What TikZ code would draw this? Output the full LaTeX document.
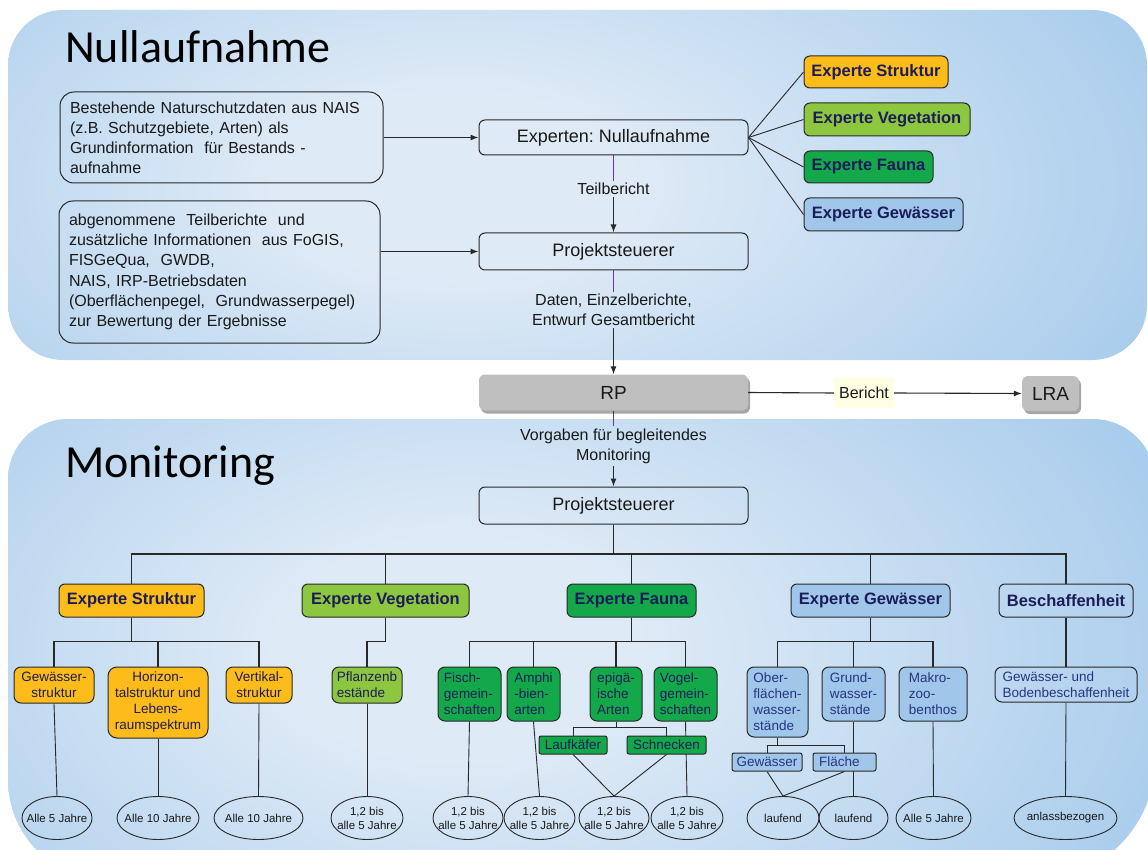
\documentclass[tikz,border=0pt]{standalone}
\usepackage{fontspec}
\setmainfont{Liberation Sans}
\newfontfamily\titlefont{Carlito}
\usetikzlibrary{shapes.geometric,arrows.meta,shadows}
\definecolor{pinner}{RGB}{222,234,246}
\definecolor{pouter}{RGB}{150,194,233}
\pgfdeclareradialshading{panelshade}{\pgfpoint{-6bp}{0bp}}{color(0bp)=(pinner); color(8bp)=(pinner); color(40bp)=(pouter); color(80bp)=(pouter)}
\definecolor{cOrange}{RGB}{253,188,26}
\definecolor{cLgreen}{RGB}{141,198,63}
\definecolor{cGreen}{RGB}{19,169,75}
\definecolor{cLblue}{RGB}{160,198,234}
\definecolor{cNavy}{RGB}{28,28,90}
\definecolor{cNavyB}{RGB}{40,52,130}
\definecolor{cLine}{RGB}{40,40,40}
\definecolor{cPurple}{RGB}{112,48,160}
\definecolor{cGray}{RGB}{191,191,191}
\definecolor{cYellow}{RGB}{255,255,228}
\definecolor{cText}{RGB}{25,25,25}
\pgfdeclarelayer{panel}
\pgfdeclarelayer{lines}
\pgfsetlayers{panel,lines,main}
\tikzset{
  panelfill/.style={path picture={\path[shading=panelshade]
     ([yshift=-120pt]path picture bounding box.south west) rectangle ([yshift=120pt]path picture bounding box.north east);}},
  box/.style={draw=cLine, line width=1pt, rounded corners=6pt, inner sep=2pt, text=cText},
  bigbox/.style={box, rounded corners=14pt, font=\fontsize{16}{20}\selectfont, align=left, inner xsep=10pt},
  mainbox/.style={box, minimum width=269pt, font=\fontsize{18}{22}\selectfont},
  graybox/.style={fill=cGray, rounded corners=6pt, text=cText, font=\fontsize{19}{22}\selectfont,
     drop shadow={shadow xshift=2pt, shadow yshift=-3pt, opacity=0.35, fill=black}},
  lbl/.style={font=\fontsize{16}{20}\selectfont, align=center, inner sep=2pt, text=cText},
  expert/.style={box, font=\bfseries\fontsize{16.5}{20}\selectfont, text=cNavy, minimum height=33pt},
  sub/.style={box, font=\fontsize{13.5}{16}\selectfont, text=cNavy, align=left, rounded corners=7pt},
  subB/.style={sub, fill=cLblue, text=cNavyB},
  tiny/.style={rounded corners=2pt, minimum height=18pt, inner ysep=0.5pt},
  ell/.style={draw=cLine, line width=0.9pt, ellipse, minimum height=43pt, inner xsep=-12pt, inner ysep=-8pt,
     font=\fontsize{11.5}{14}\selectfont, align=center, text=cText},
  tree/.style={draw=cLine, line width=1.1pt},
  thinline/.style={draw=cLine, line width=0.9pt},
  arr/.style={tree, -{Latex[length=8pt,width=6pt]}},
  purp/.style={draw=cPurple, line width=0.8pt}
}
\begin{document}
\begin{tikzpicture}[x=1pt,y=-1pt]
\useasboundingbox (0,0) rectangle (1148,850);
\begin{pgfonlayer}{panel}
\begin{scope}
\clip (0,0) rectangle (1148,850);
\path[panelfill, rounded corners=55pt] (8,10) rectangle (1147,360);
\path[panelfill] (8,479) .. controls (8,445.9) and (34.9,419) .. (68,419) -- (1093,419)
   .. controls (1127.2,419) and (1155,446.8) .. (1155,481) -- (1155,760)
   .. controls (1155,826.3) and (1101.3,880) .. (1035,880) -- (108,880)
   .. controls (52.8,880) and (8,835.2) .. (8,780) -- cycle;
\end{scope}
\end{pgfonlayer}

% titles
\node[anchor=base west, inner sep=0, font=\titlefont\fontsize{46}{50}\selectfont] (t1) at (65,63) {Nullaufnahme};
\node[anchor=base west, inner sep=0, font=\titlefont\fontsize{46}{50}\selectfont] (t2) at (65,477) {Monitoring};

% top part
\node[bigbox, minimum width=323pt, minimum height=91pt, text width=303pt] (boxA) at (221.5,137.5)
  {Bestehende Naturschutzdaten aus NAIS\\(z.B. Schutzgebiete, Arten) als\\Grundinformation\ \ für Bestands -\\aufnahme};
\node[bigbox, minimum width=321pt, minimum height=142pt, text width=301pt, font=\fontsize{16}{20.3}\selectfont] (boxB) at (219.5,272)
  {abgenommene\ \ Teilberichte\ \ und\\zusätzliche Informationen\ \ aus FoGIS,\\FISGeQua,\ \ GWDB,\\NAIS, IRP-Betriebsdaten\\(Oberflächenpegel,\ \ Grundwasserpegel)\\zur Bewertung der Ergebnisse};

\node[mainbox, minimum height=35pt] (exp0) at (613.5,137.5) {Experten:\ Nullaufnahme};
\node[mainbox, minimum height=37pt] (ps1) at (613.5,251.5) {Projektsteuerer};
\node[lbl] (teil) at (613.5,189) {Teilbericht};
\node[lbl] (daten) at (613.5,310) {Daten, Einzelberichte,\\Entwurf Gesamtbericht};

\node[expert, fill=cOrange, minimum width=144pt, minimum height=32pt] (es1) at (876,72) {Experte Struktur};
\node[expert, fill=cLgreen, minimum width=166pt] (ev1) at (887,119.5) {Experte Vegetation};
\node[expert, fill=cGreen, minimum width=129pt, minimum height=32pt] (ef1) at (868.5,167) {Experte Fauna};
\node[expert, fill=cLblue, minimum width=159pt] (eg1) at (883.5,214.5) {Experte Gewässer};

% middle
\node[graybox, minimum width=269pt, minimum height=36pt] (rp) at (613.5,392.5) {RP};
\node[graybox, minimum width=57pt, minimum height=35pt] (lra) at (1050.5,393.5) {LRA};
\node[lbl, fill=cYellow, minimum height=30pt, inner xsep=5pt] (ber) at (864,393) {Bericht};
\node[lbl] (vorg) at (613.5,446) {Vorgaben für begleitendes\\Monitoring};

% monitoring
\node[mainbox, minimum height=37pt] (ps2) at (613.5,505.5) {Projektsteuerer};

\node[expert, fill=cOrange, minimum width=145pt] (es2) at (131.5,600.5) {Experte Struktur};
\node[expert, fill=cLgreen, minimum width=167pt] (ev2) at (385.5,600.5) {Experte Vegetation};
\node[expert, fill=cGreen, minimum width=129pt] (ef2) at (631.5,600.5) {Experte Fauna};
\node[expert, fill=cLblue, minimum width=159pt] (eg2) at (870.5,600.5) {Experte Gewässer};
\node[expert, minimum width=134pt] (bs2) at (1066,600.5) {Beschaffenheit};

\node[sub, fill=cOrange, align=center, minimum width=80pt, minimum height=36pt] (gws) at (54,685) {Gewässer-\\struktur};
\node[sub, fill=cOrange, align=center, minimum width=100pt, minimum height=71pt, rounded corners=9pt] (hor) at (158,702.5) {Horizon-\\talstruktur und\\Lebens-\\raumspektrum};
\node[sub, fill=cOrange, align=center, minimum width=66pt, minimum height=36pt] (ver) at (259,685) {Vertikal-\\struktur};
\node[sub, fill=cLgreen, minimum width=70pt, minimum height=36pt] (pfl) at (367,685) {Pflanzenb\\estände};
\node[sub, fill=cGreen, minimum width=63pt, minimum height=54pt] (fis) at (469.5,694) {Fisch-\\gemein-\\schaften};
\node[sub, fill=cGreen, minimum width=53pt, minimum height=54pt] (amp) at (533.5,694) {Amphi\\-bien-\\arten};
\node[sub, fill=cGreen, minimum width=52pt, minimum height=54pt] (epi) at (616,694) {epigä-\\ische\\Arten};
\node[sub, fill=cGreen, minimum width=63pt, minimum height=54pt] (vog) at (685.5,694) {Vogel-\\gemein-\\schaften};
\node[sub, tiny, fill=cGreen, minimum width=68pt] (lauf) at (573,745) {Laufkäfer};
\node[sub, tiny, fill=cGreen, minimum width=79pt] (schn) at (666.5,745) {Schnecken};
\node[subB, minimum width=61pt, minimum height=70pt] (obf) at (777.5,702) {Ober-\\flächen-\\wasser-\\stände};
\node[subB, minimum width=63pt, minimum height=54pt] (grw) at (853.5,694) {Grund-\\wasser-\\stände};
\node[subB, minimum width=68pt, minimum height=54pt] (mak) at (933,694) {Makro-\\zoo-\\benthos};
\node[subB, tiny, minimum width=70pt] (gew) at (767,762) {Gewässer};
\node[subB, tiny, text width=51pt, inner xsep=6pt] (fla) at (844.5,762) {Fläche};
\node[sub, text=cNavyB, minimum width=142pt, minimum height=35pt] (gbb) at (1066,684.5) {Gewässer- und\\Bodenbeschaffenheit};

\node[ell, minimum width=70pt] (e1) at (57,818) {Alle 5 Jahre};
\node[ell, minimum width=82pt] (e2) at (158,818) {Alle 10 Jahre};
\node[ell, minimum width=89pt] (e3) at (258.5,818) {Alle 10 Jahre};
\node[ell, minimum width=72pt] (e4) at (367,818) {1,2 bis\\alle 5 Jahre};
\node[ell, minimum width=70pt] (e5) at (468,818) {1,2 bis\\alle 5 Jahre};
\node[ell, minimum width=71pt] (e6) at (539.5,818) {1,2 bis\\alle 5 Jahre};
\node[ell, minimum width=70pt] (e7) at (614,818) {1,2 bis\\alle 5 Jahre};
\node[ell, minimum width=72pt] (e8) at (687,818) {1,2 bis\\alle 5 Jahre};
\node[ell, minimum width=72pt] (e9) at (783,818) {laufend};
\node[ell, minimum width=69pt] (e10) at (853.5,818) {laufend};
\node[ell, minimum width=75pt] (e11) at (933.5,818) {Alle 5 Jahre};
\node[ell, minimum width=103pt] (e12) at (1065.5,818) {anlassbezogen};

% connectors
\begin{pgfonlayer}{lines}
\draw[arr] (boxA.east) -- (exp0.west);
\draw[arr] (boxB.east |- ps1.west) -- (ps1.west);
\foreach \n in {es1,ev1,ef1,eg1} \draw[thinline] (exp0.east) -- (\n.west);
\draw[purp] (exp0.south) -- (teil.north);
\draw[arr] (teil.south) -- (ps1.north);
\draw[purp] (ps1.south) -- (daten.north);
\draw[arr] (daten.south) -- (rp.north);
\draw[tree] (rp.east) -- (ber.west);
\draw[arr] (ber.east) -- (lra.west);
\draw[purp] (rp.south) -- (vorg.north);
\draw[arr] (vorg.south) -- (ps2.north);
\foreach \n in {es2,ev2,ef2,eg2,bs2} \draw[tree] (ps2.south) -- ++(0,29.5) -| (\n.north);
\foreach \n in {gws,hor,ver} \draw[tree] (es2.south) -- ++(0,24) -| (\n.north);
\draw[tree] (ev2.south) -- ++(0,24) -| (pfl.north);
\foreach \n in {fis,amp,epi,vog} \draw[tree] (ef2.south) -- ++(0,24) -| (\n.north);
\foreach \n in {lauf,schn} \draw[thinline] (epi.south) -- ++(0,6) -| (\n.north);
\foreach \n in {obf,grw,mak} \draw[tree] (eg2.south) -- ++(0,24) -| (\n.north);
\foreach \n in {gew,fla} \draw[thinline] (obf.south) -- ++(0,7.5) -| (\n.north);
\draw[tree] (bs2.south) -- (gbb.north);
\draw[thinline] (gws.south) -- (e1.north);
\draw[thinline] (hor.south) -- (e2.north);
\draw[thinline] (ver.south) -- (e3.north);
\draw[thinline] (pfl.south) -- (e4.north);
\draw[thinline] (fis.south) -- (e5.north);
\draw[thinline] (amp.south) -- (e6.north);
\draw[thinline] (lauf.south) -- (e7.north);
\draw[thinline] (schn.south) -- (e7.north);
\draw[thinline] (vog.south) -- (e8.north);
\draw[thinline] (gew.south) -- (e9.north);
\draw[thinline] (fla.south) -- (e9.north);
\draw[thinline] (grw.south) -- (e10.north);
\draw[thinline] (mak.south) -- (e11.north);
\draw[thinline] (gbb.south) -- (e12.north);
\end{pgfonlayer}
\end{tikzpicture}
\end{document}
